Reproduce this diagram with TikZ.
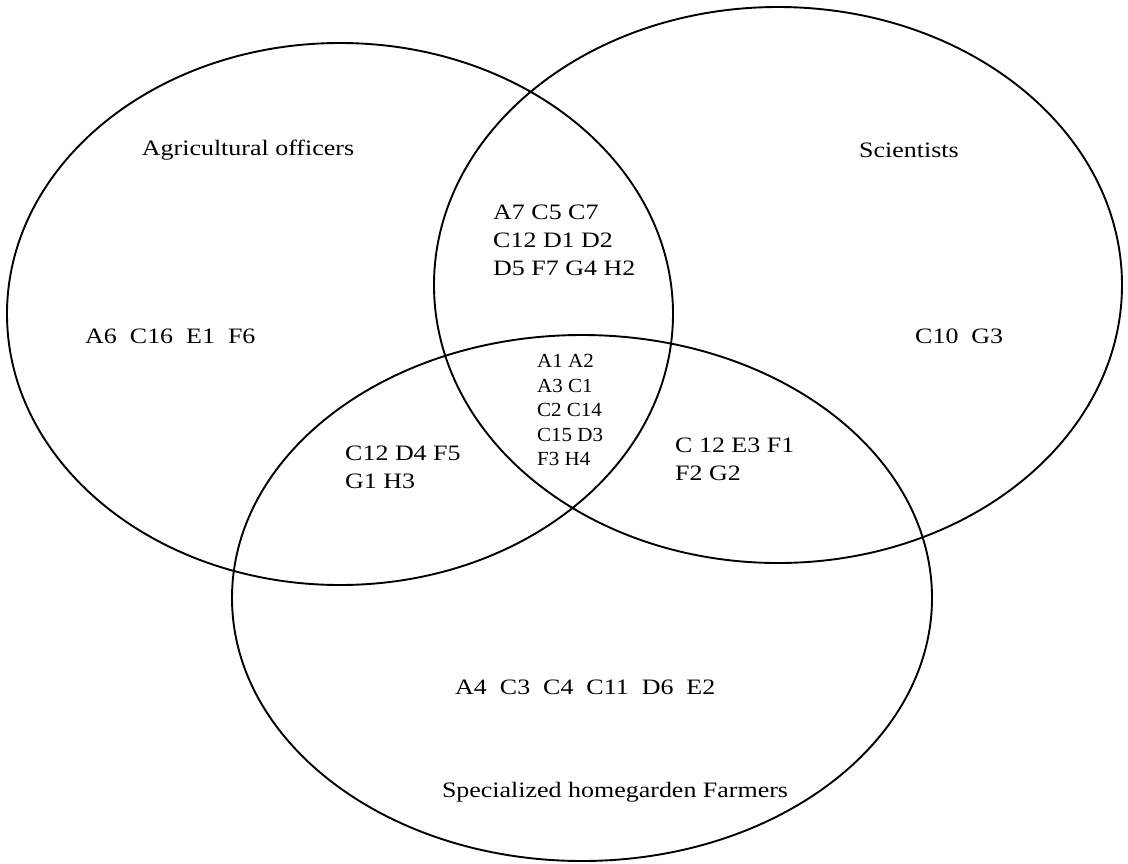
\documentclass[tikz,border=0pt]{standalone}
\usepackage{fontspec}
\setmainfont{Liberation Serif}
\usetikzlibrary{positioning}

\begin{document}
\begin{tikzpicture}[%
x=1pt,
y=-1pt,
ring/.style={line width=1.9pt},
lab/.style={font=\fontsize{22}{28}\selectfont, inner sep=0pt, align=left, xscale=1.18},
small/.style={font=\fontsize{20}{24.5}\selectfont, inner sep=0pt, align=left, xscale=1.05},
]
\useasboundingbox (0,0) rectangle (1128,863);

%Mittelpunkte
\coordinate (O) at (340,314);
\coordinate (S) at (778,285);
\coordinate (F) at (582,598);

%Ellipsen
\draw[ring] (O) ellipse [x radius=333, y radius=271];
\draw[ring] (S) ellipse [x radius=344, y radius=278];
\draw[ring] (F) ellipse [x radius=350, y radius=263];

%Gruppen
\node[lab] (officers) at (248,150) {Agricultural officers};
\node[lab] (scientists) at (909,150) {Scientists};
\node[lab] (farmers) at (615,792) {Specialized homegarden Farmers};

%Bereiche
\node[lab, anchor=west] (onlyO) at (85,336) {A6 \ C16 \ E1 \ F6};
\node[lab, anchor=west] (onlyS) at (915,336) {C10 \ G3};
\node[lab, anchor=west] (onlyF) at (455,687) {A4 \ C3 \ C4 \ C11 \ D6 \ E2};
\node[lab, anchor=west] (OS) at (493,240) {A7 C5 C7\\C12 D1 D2\\D5 F7 G4 H2};
\node[lab, anchor=west] (OF) at (345,467) {C12 D4 F5\\G1 H3};
\node[lab, anchor=west] (SF) at (675,459) {C 12 E3 F1\\F2 G2};
\node[small, anchor=west] (OSF) at (537,410) {A1 A2\\A3 C1\\C2 C14\\C15 D3\\F3 H4};

\end{tikzpicture}
\end{document}
